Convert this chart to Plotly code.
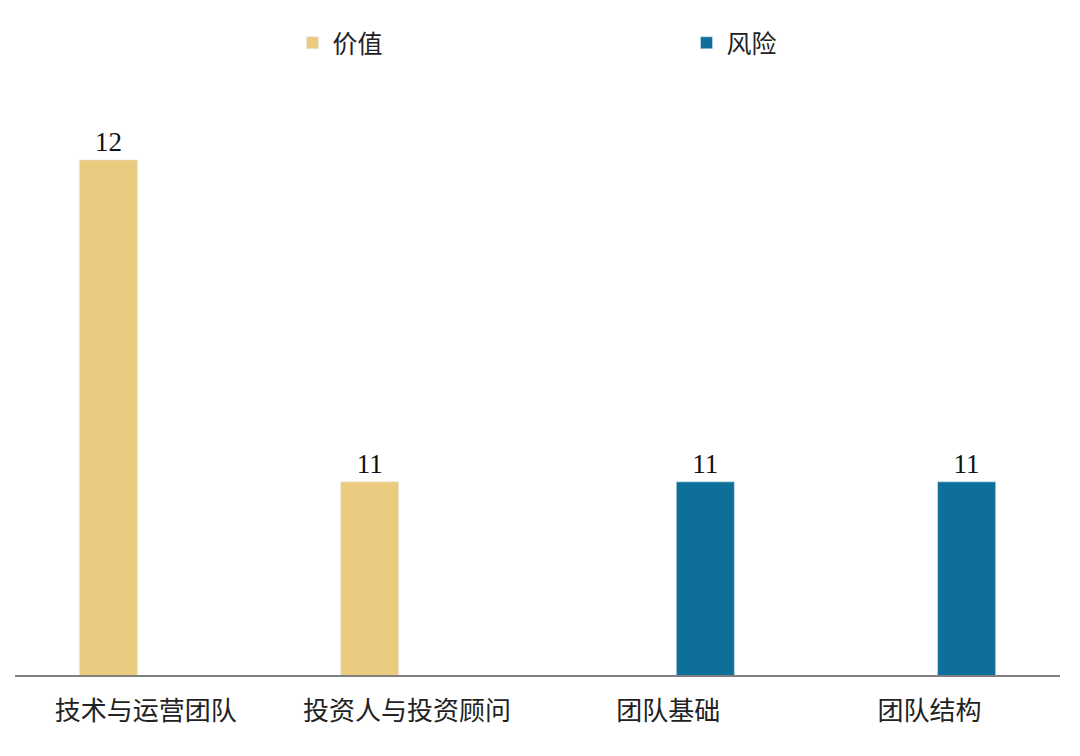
"""
Team value / risk factor counts, bar chart with Plotly.
"""

import plotly.graph_objects as go

# Chart data
CATEGORIES = ["技术与运营团队", "投资人与投资顾问", "团队基础", "团队结构"]
VALUE_COUNTS = [12, 11, None, None]   # 价值
RISK_COUNTS = [None, None, 11, 11]    # 风险
SERIES_NAMES = ["价值", "风险"]

GOLD = "#EACB80"
BLUE = "#0F6F9B"
FONT = "Liberation Serif, Noto Sans CJK SC, serif"

fig = go.Figure()

for name, values, color in zip(SERIES_NAMES, [VALUE_COUNTS, RISK_COUNTS], [GOLD, BLUE]):
    fig.add_trace(
        go.Bar(
            x=CATEGORIES,
            y=values,
            name=name,
            marker_color=color,
            text=[v if v is not None else "" for v in values],
            textposition="outside",
            textfont=dict(size=27, color="#111111", family=FONT),
            cliponaxis=False,
        )
    )

fig.update_layout(
    barmode="group",
    bargap=0.43,
    bargroupgap=0.22,
    width=1080,
    height=756,
    margin=dict(l=7, r=28, t=92, b=89),
    plot_bgcolor="white",
    paper_bgcolor="white",
    font=dict(family=FONT, size=22, color="#222222"),
    legend=dict(
        orientation="h",
        x=0.6426,
        xanchor="center",
        yref="container",
        y=1 - 35 / 756,
        yanchor="middle",
        entrywidth=349,
        font=dict(size=25, color="#222222"),
        itemwidth=30,
    ),
    xaxis=dict(
        showline=True,
        linecolor="#808080",
        linewidth=1.5,
        ticks="",
        showgrid=False,
        ticklabelstandoff=12,
        tickfont=dict(size=26, color="#222222"),
    ),
    yaxis=dict(
        range=[10.4, 12.186],
        visible=False,
        showgrid=False,
    ),
)

fig.write_html("out.html")
